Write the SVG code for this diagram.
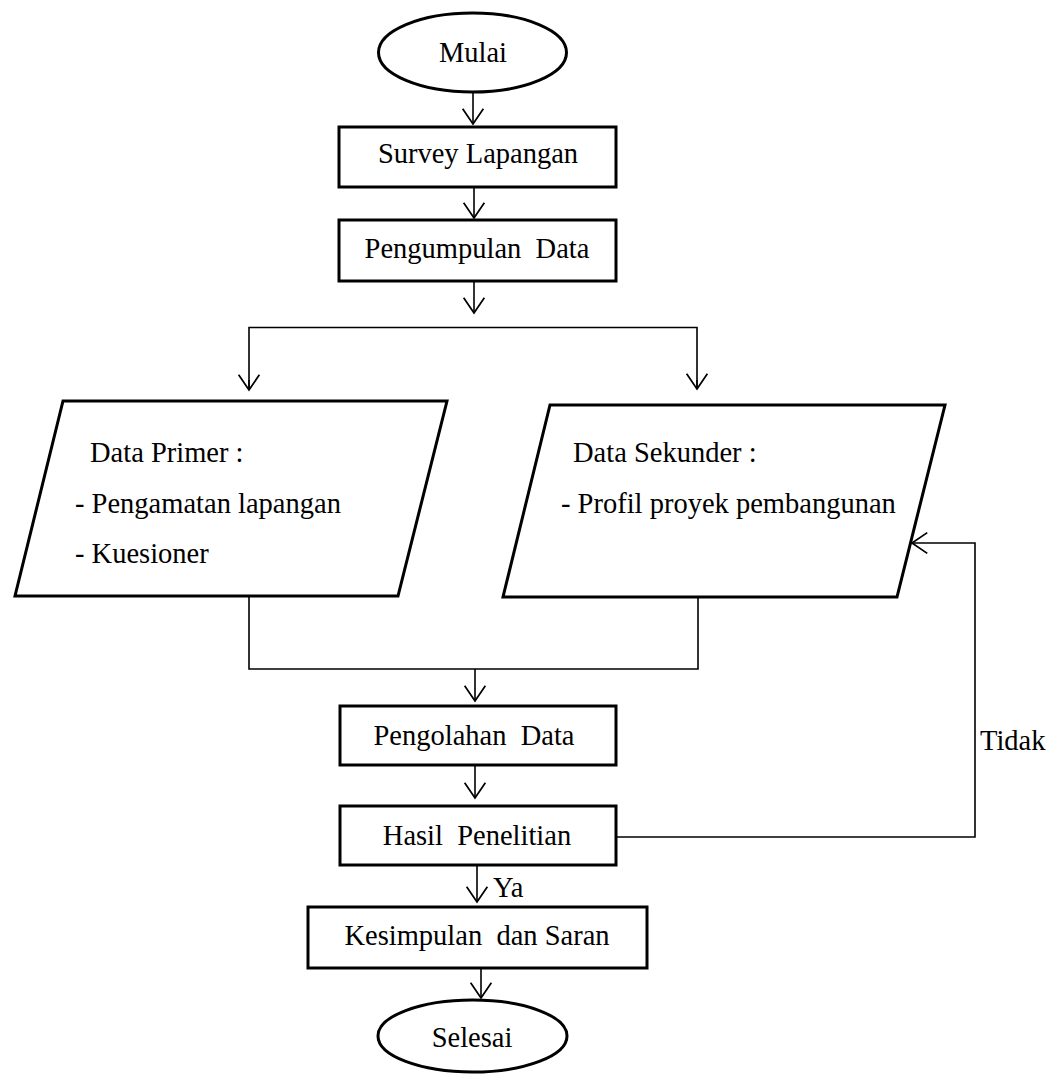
<svg xmlns="http://www.w3.org/2000/svg" width="1063" height="1077" viewBox="0 0 1063 1077">
<style>
.shape{fill:#fff;stroke:#000;stroke-width:3}
.conn{fill:none;stroke:#000;stroke-width:1.6}
text{font-family:"Liberation Serif","Times New Roman",serif;font-size:28.5px;fill:#000;white-space:pre}
.c{text-anchor:middle}
</style>
<defs>
<marker id="arr" markerUnits="userSpaceOnUse" markerWidth="20" markerHeight="24" viewBox="-15 -11 17 22" refX="0" refY="0" orient="auto">
<path d="M-14,-9.5 L0,0 L-14,9.5" fill="none" stroke="#000" stroke-width="1.6"/>
</marker>
</defs>
<rect width="1063" height="1077" fill="#fff"/>
<g id="connectors">
<line class="conn" x1="473" y1="92" x2="473" y2="124" marker-end="url(#arr)"/>
<line class="conn" x1="474" y1="187" x2="474" y2="218" marker-end="url(#arr)"/>
<line class="conn" x1="474" y1="281" x2="474" y2="313" marker-end="url(#arr)"/>
<polyline class="conn" points="249,389 249,327.5 697,327.5 697,389"/>
<line class="conn" x1="249" y1="380" x2="249" y2="390" marker-end="url(#arr)"/>
<line class="conn" x1="697" y1="380" x2="697" y2="389" marker-end="url(#arr)"/>
<polyline class="conn" points="249,596 249,669 698,669 698,597"/>
<line class="conn" x1="475" y1="669" x2="475" y2="701" marker-end="url(#arr)"/>
<line class="conn" x1="475" y1="765" x2="475" y2="798" marker-end="url(#arr)"/>
<line class="conn" x1="477" y1="865" x2="477" y2="902" marker-end="url(#arr)"/>
<line class="conn" x1="481" y1="968" x2="481" y2="998" marker-end="url(#arr)"/>
<polyline class="conn" points="616,837 975,837 975,543 912,543" marker-end="url(#arr)"/>
<text x="493" y="897">Ya</text>
<text x="980" y="750">Tidak</text>
</g>
<g id="mulai">
<ellipse class="shape" cx="472.5" cy="52.5" rx="94" ry="39.5"/>
<text class="c" x="473" y="62">Mulai</text>
</g>
<g id="survey">
<rect class="shape" x="339" y="127" width="277" height="60"/>
<text class="c" x="478" y="163">Survey Lapangan</text>
</g>
<g id="pengumpulan">
<rect class="shape" x="339" y="220" width="277" height="61"/>
<text class="c" x="477" y="258">Pengumpulan  Data</text>
</g>
<g id="primer">
<polygon class="shape" points="63,401 447,401 398,596 15,596"/>
<text x="90" y="462">Data Primer :</text>
<text x="75" y="513">- Pengamatan lapangan</text>
<text x="75" y="563">- Kuesioner</text>
</g>
<g id="sekunder">
<polygon class="shape" points="550,405 945,405 897,597 503,597"/>
<text x="573" y="462">Data Sekunder :</text>
<text x="561" y="513">- Profil proyek pembangunan</text>
</g>
<g id="pengolahan">
<rect class="shape" x="340" y="706" width="276" height="59"/>
<text class="c" x="474" y="745">Pengolahan  Data</text>
</g>
<g id="hasil">
<rect class="shape" x="340" y="806" width="276" height="59"/>
<text class="c" x="477" y="845">Hasil  Penelitian</text>
</g>
<g id="kesimpulan">
<rect class="shape" x="308" y="907" width="339" height="61"/>
<text class="c" x="477" y="945">Kesimpulan  dan Saran</text>
</g>
<g id="selesai">
<ellipse class="shape" cx="472.5" cy="1036" rx="94.5" ry="36"/>
<text class="c" x="472" y="1047">Selesai</text>
</g>
</svg>
